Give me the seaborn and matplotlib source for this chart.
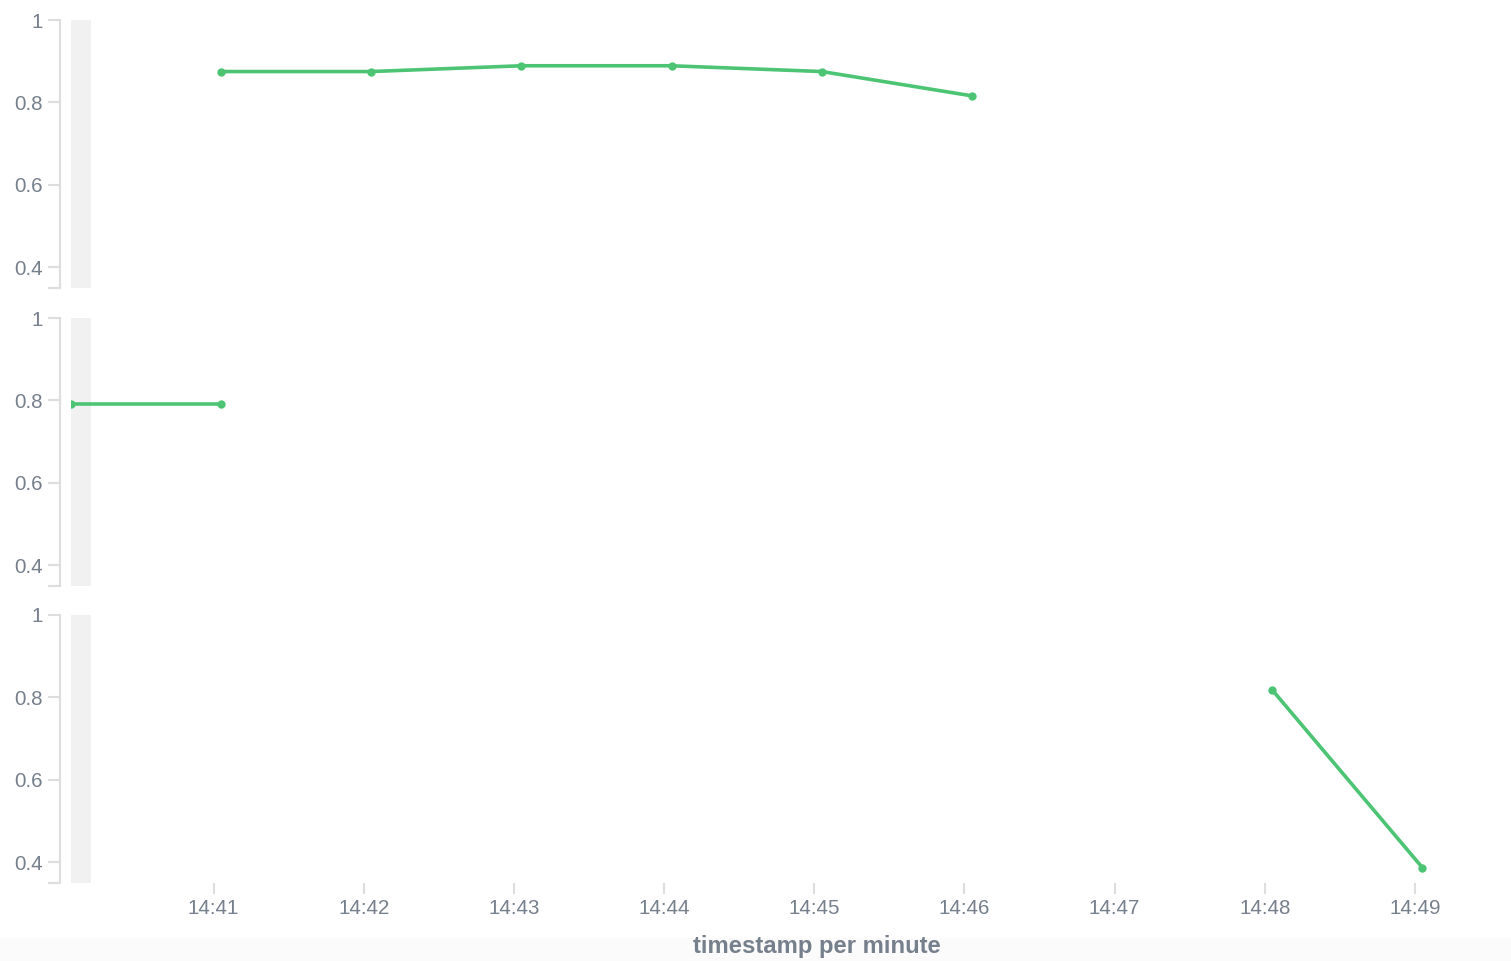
import pandas as pd
import matplotlib
matplotlib.use("Agg")
import matplotlib.pyplot as plt
import matplotlib.dates as mdates
from matplotlib.patches import Rectangle
import seaborn as sns

# data (three stacked panels, same y scale)
DAY = "2018-01-01 "
PANEL_1_TIMES = ["14:41:03", "14:42:03", "14:43:03", "14:44:03", "14:45:03", "14:46:03"]
PANEL_1_VALUES = [0.875, 0.875, 0.889, 0.889, 0.875, 0.816]

PANEL_2_TIMES = ["14:40:03", "14:41:03"]
PANEL_2_VALUES = [0.791, 0.791]

PANEL_3_TIMES = ["14:48:03", "14:49:03"]
PANEL_3_VALUES = [0.818, 0.387]

X_START = "14:40:03"
X_END = "14:49:10"
BAND_END = "14:40:11"

Y_TICKS = [0.35, 0.4, 0.6, 0.8, 1.0]
Y_TICK_LABELS = ["", "0.4", "0.6", "0.8", "1"]
X_LABEL = "timestamp per minute"

LINE_COLOR = "#4cc473"
AXIS_COLOR = "#dddddd"
TEXT_COLOR = "#76808c"
BAND_COLOR = "#f1f1f1"

FIG_W, FIG_H = 1511, 961
DPI = 100


def to_time(values):
    return pd.to_datetime([DAY + v for v in values])


def frame(times, values):
    return pd.DataFrame({"time": to_time(times), "value": values})


sns.set_theme(style="white")
plt.rcParams["font.family"] = ["Liberation Sans", "DejaVu Sans"]

fig = plt.figure(figsize=(FIG_W / DPI, FIG_H / DPI), dpi=DPI)
fig.patches.append(Rectangle((0, 0), 1, (FIG_H - 938) / FIG_H, transform=fig.transFigure,
                             facecolor="#fbfbfb", edgecolor="none", zorder=-5))

left_px, right_px = 71, 1440
panel_tops = [20, 318, 615]
panel_h = 268
panels = [
    frame(PANEL_1_TIMES, PANEL_1_VALUES),
    frame(PANEL_2_TIMES, PANEL_2_VALUES),
    frame(PANEL_3_TIMES, PANEL_3_VALUES),
]

x_lo = to_time([X_START])[0]
x_hi = to_time([X_END])[0]
band_hi = to_time([BAND_END])[0]

for i, (top, df) in enumerate(zip(panel_tops, panels)):
    ax = fig.add_axes([
        left_px / FIG_W,
        1 - (top + panel_h) / FIG_H,
        (right_px - left_px) / FIG_W,
        panel_h / FIG_H,
    ])
    ax.axvspan(x_lo, band_hi, color=BAND_COLOR, lw=0, zorder=0)
    sns.lineplot(data=df, x="time", y="value", ax=ax, color=LINE_COLOR,
                 linewidth=2.6, marker="o", markersize=6, markeredgewidth=0,
                 zorder=3)

    ax.set_xlim(x_lo, x_hi)
    ax.set_ylim(0.35, 1.0)
    ax.set_facecolor("none")
    ax.grid(False)
    ax.set_xlabel("")
    ax.set_ylabel("")

    for side in ["top", "right", "bottom"]:
        ax.spines[side].set_visible(False)
    ax.spines["left"].set_position(("outward", 8))
    ax.spines["left"].set_color(AXIS_COLOR)
    ax.spines["left"].set_linewidth(1.5)

    ax.set_yticks(Y_TICKS)
    ax.set_yticklabels(Y_TICK_LABELS)
    ax.tick_params(axis="y", direction="out", length=8.6, width=1.5,
                   color=AXIS_COLOR, labelcolor=TEXT_COLOR, labelsize=14.8, pad=4,
                   left=True)

    ax.xaxis.set_major_locator(mdates.MinuteLocator())
    ax.xaxis.set_major_formatter(mdates.DateFormatter("%H:%M"))
    if i < 2:
        ax.tick_params(axis="x", bottom=False, labelbottom=False)
    else:
        ax.tick_params(axis="x", direction="out", bottom=True, length=8, width=1.5,
                       color=AXIS_COLOR, labelcolor=TEXT_COLOR, labelsize=14.8, pad=3.5)

fig.text(817 / FIG_W, 1 - 946 / FIG_H, X_LABEL, ha="center", va="center",
         fontsize=17.2, fontweight="bold", color=TEXT_COLOR)

fig.savefig("out.png", dpi=DPI)
